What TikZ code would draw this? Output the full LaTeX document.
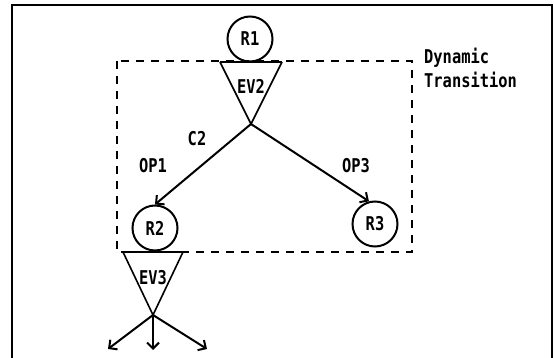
\documentclass[tikz,border=0pt]{standalone}
\usepackage{fontspec}
\newfontfamily\dm{DejaVu Sans Mono}[FakeStretch=0.81]
\usetikzlibrary{arrows.meta}
\begin{document}
\begin{tikzpicture}[x=1pt,y=-1pt,
  lbl/.style={font=\dm\bfseries\fontsize{19}{24}\selectfont, inner sep=0pt},
  res/.style={circle, draw, line width=2pt, minimum size=45pt, inner sep=0pt, font=\dm\bfseries\fontsize{19}{20}\selectfont},
  arr/.style={line width=2pt, -{Straight Barb[length=6pt,width=12pt,line width=2pt]}},
  tri/.style={line width=1.6pt},
  triTop/.style={line width=2.8pt},
  dbox/.style={line width=2pt, dash pattern=on 8pt off 7pt},
  frame/.style={line width=2.2pt}]
\useasboundingbox (0,0) rectangle (554,358);
% outer frame (no bottom edge)
\draw[frame] (12,358) -- (12,5) -- (552,5) -- (552,358);
% dashed dynamic-transition box
\draw[dbox] (117,61) rectangle (412,252);
\node[lbl, align=left, anchor=west] (dyn) at (424,68) {Dynamic\\Transition};
% R1 and EV2
\node[res] (R1) at (250,39) {R1};
\coordinate (e2l) at (220,62);
\coordinate (e2r) at (282,62);
\coordinate (e2a) at (251,124);
\draw[tri] (e2l) -- (e2a) -- (e2r);
\draw[triTop] (e2l) -- (e2r);
\node[lbl] (EV2) at (251,86) {EV2};
% R2, R3
\node[res] (R2) at (155,228) {R2};
\node[res] (R3) at (375,224) {R3};
\draw[arr] (e2a) -- (R2.north);
\draw[arr] (e2a) -- (R3.105);
\node[lbl] (C2) at (197,139) {C2};
\node[lbl] (OP1) at (153,166) {OP1};
\node[lbl] (OP3) at (356,166) {OP3};
% EV3
\coordinate (e3l) at (123,252);
\coordinate (e3r) at (183,252);
\coordinate (e3a) at (153,315);
\draw[tri] (e3l) -- (e3a) -- (e3r);
\draw[triTop] (e3l) -- (e3r);
\node[lbl] (EV3) at (153,278) {EV3};
\coordinate (o1) at (108,349);
\coordinate (o2) at (153,350);
\coordinate (o3) at (207,349);
\draw[arr] (e3a) -- (o1);
\draw[arr] (e3a) -- (o2);
\draw[arr] (e3a) -- (o3);
\end{tikzpicture}
\end{document}
